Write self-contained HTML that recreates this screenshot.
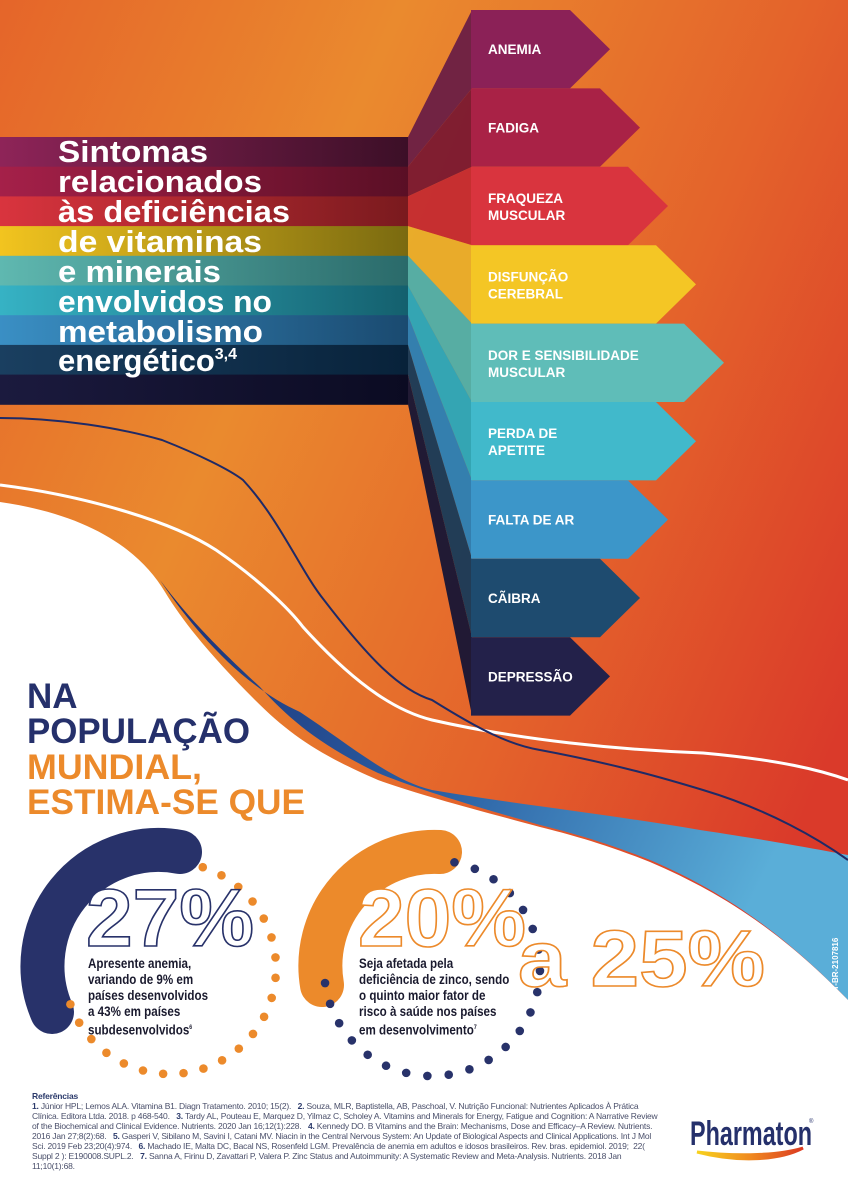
<!DOCTYPE html>
<html><head><meta charset="utf-8">
<style>
html,body{margin:0;padding:0;background:#fff;}
#wrap{position:relative;width:848px;height:1194px;overflow:hidden;font-family:"Liberation Sans",sans-serif;}
svg{position:absolute;left:0;top:0;}
.ref{position:absolute;left:32px;top:1091px;width:630px;font-size:8.5px;line-height:10px;color:#4a4f6a;letter-spacing:-0.2px;}
.ref b{color:#2b3a6b}
.body{position:absolute;font-weight:bold;font-size:13.5px;line-height:16px;color:#1a1a2e;transform:scaleX(0.86);transform-origin:0 0;white-space:nowrap;}
</style></head><body>
<div id="wrap">
<svg id="bg" width="848" height="1194" viewBox="0 0 848 1194">
<defs>
<linearGradient id="og" x1="0" y1="0" x2="1" y2="0.6">
<stop offset="0" stop-color="#e5652a"/><stop offset="0.35" stop-color="#ea8a2e"/><stop offset="0.7" stop-color="#e4632b"/><stop offset="1" stop-color="#da3a2a"/></linearGradient>
<linearGradient id="bl" x1="0" y1="0" x2="1" y2="0.3">
<stop offset="0" stop-color="#1d2f72"/><stop offset="0.5" stop-color="#2a5ea3"/><stop offset="1" stop-color="#5aaed8"/></linearGradient>
<linearGradient id="sw" x1="0" y1="0" x2="1" y2="0">
<stop offset="0" stop-color="#f7d21e"/><stop offset="0.5" stop-color="#f08a1f"/><stop offset="1" stop-color="#db3a22"/></linearGradient>
</defs>
<rect x="0" y="0" width="848" height="1194" fill="url(#og)"/>
<path d="M160,580 C200,640 250,690 300,712 C350,745 390,780 432,790 C520,805 600,813 700,830 C780,842 820,850 848,855 L848,1000 C780,930 720,890 650,860 C600,840 560,830 540,825 C470,805 420,790 378,773 C320,745 290,720 260,687 C220,650 190,620 160,580 Z" fill="url(#bl)"/>
<path d="M0,502 C90,515 140,550 165,592 C185,625 215,660 255,700 C290,735 320,755 378,780 C420,795 470,808 540,827 C560,832 600,842 650,862 C720,892 780,930 848,1000 L848,1194 L0,1194 Z" fill="#fff"/>
<path d="M0,485 C80,495 170,520 216,550 C260,580 290,610 303,627 C360,690 400,712 432,720 C520,740 620,750 703,753 C780,760 820,770 848,780" fill="none" stroke="#fff" stroke-width="3"/>
<path d="M0,418 C60,418 120,428 162,440 C200,455 230,470 243,480 C280,520 300,570 324,600 C370,660 400,690 432,700 C480,730 510,745 540,750 C620,765 670,780 703,790 C770,810 820,840 848,860" fill="none" stroke="#1f2a66" stroke-width="2"/>
<g id="stripes"></g>
<g id="arrows"></g>
<g fill="#fff" font-weight="bold" font-size="31">
<text x="58" y="162" textLength="150" lengthAdjust="spacingAndGlyphs">Sintomas</text>
<text x="58" y="192" textLength="204" lengthAdjust="spacingAndGlyphs">relacionados</text>
<text x="58" y="222" textLength="232" lengthAdjust="spacingAndGlyphs">às deficiências</text>
<text x="58" y="252" textLength="204" lengthAdjust="spacingAndGlyphs">de vitaminas</text>
<text x="58" y="282" textLength="163" lengthAdjust="spacingAndGlyphs">e minerais</text>
<text x="58" y="312" textLength="214" lengthAdjust="spacingAndGlyphs">envolvidos no</text>
<text x="58" y="342" textLength="205" lengthAdjust="spacingAndGlyphs">metabolismo</text>
<text x="58" y="371">energético<tspan font-size="16" dy="-12">3,4</tspan></text>
</g>
<g font-weight="bold" font-size="35">
<text x="27" y="708" fill="#25306b">NA</text>
<text x="27" y="743" fill="#25306b" textLength="223" lengthAdjust="spacingAndGlyphs">POPULAÇÃO</text>
<text x="27" y="779" fill="#ec8a2b" textLength="175" lengthAdjust="spacingAndGlyphs">MUNDIAL,</text>
<text x="27" y="814" fill="#ec8a2b" textLength="278" lengthAdjust="spacingAndGlyphs">ESTIMA-SE QUE</text>
</g>
<path d="M180,852 A116,116 0 0 0 52,1012" fill="none" stroke="#28326a" stroke-width="44" stroke-linecap="round"/>
<path d="M440,852 A114,114 0 0 0 322,985" fill="none" stroke="#ec8a2b" stroke-width="44" stroke-linecap="round"/>
<g id="dots"></g>
<text x="86" y="946" font-size="82" font-weight="bold" fill="#fff" stroke="#28326a" stroke-width="1.6" textLength="168" lengthAdjust="spacingAndGlyphs">27%</text>
<text x="358" y="946" font-size="82" font-weight="bold" fill="#fff" stroke="#ec8a2b" stroke-width="1.6" textLength="168" lengthAdjust="spacingAndGlyphs">20%</text>
<text x="518" y="986" font-size="80" font-weight="bold" fill="#fff" stroke="#ec8a2b" stroke-width="1.6" textLength="247" lengthAdjust="spacingAndGlyphs">a 25%</text>
<text transform="translate(838,1002) rotate(-90)" font-size="8" font-weight="bold" fill="#fff">MAT-BR-2107816</text>
<text x="690" y="1145" font-size="34" font-weight="bold" fill="#25306b" textLength="122" lengthAdjust="spacingAndGlyphs">Pharmaton</text>
<text x="809" y="1123" font-size="6" fill="#25306b">®</text>
<path d="M697,1152 C740,1163 780,1160 803,1148 C780,1155 740,1157 697,1152 Z" fill="url(#sw)" stroke="url(#sw)" stroke-width="3"/>
</svg>
<div class="body" style="left:88px;top:956px;">Apresente anemia,<br>variando de 9% em<br>países desenvolvidos<br>a 43% em países<br>subdesenvolvidos<sup style="font-size:6px">6</sup></div>
<div class="body" style="left:359px;top:956px;">Seja afetada pela<br>deficiência de zinco, sendo<br>o quinto maior fator de<br>risco à saúde nos países<br>em desenvolvimento<sup style="font-size:6px">7</sup></div>
<div class="ref"><b>Referências</b><br><b>1.</b> Júnior HPL; Lemos ALA. Vitamina B1. Diagn Tratamento. 2010; 15(2). &nbsp; <b>2.</b> Souza, MLR, Baptistella, AB, Paschoal, V. Nutrição Funcional: Nutrientes Aplicados À Prática Clínica. Editora Ltda. 2018. p 468-540. &nbsp; <b>3.</b> Tardy AL, Pouteau E, Marquez D, Yilmaz C, Scholey A. Vitamins and Minerals for Energy, Fatigue and Cognition: A Narrative Review of the Biochemical and Clinical Evidence. Nutrients. 2020 Jan 16;12(1):228. &nbsp; <b>4.</b> Kennedy DO. B Vitamins and the Brain: Mechanisms, Dose and Efficacy–A Review. Nutrients. 2016 Jan 27;8(2):68. &nbsp; <b>5.</b> Gasperi V, Sibilano M, Savini I, Catani MV. Niacin in the Central Nervous System: An Update of Biological Aspects and Clinical Applications. Int J Mol Sci. 2019 Feb 23;20(4):974. &nbsp; <b>6.</b> Machado IE, Malta DC, Bacal NS, Rosenfeld LGM. Prevalência de anemia em adultos e idosos brasileiros. Rev. bras. epidemiol. 2019; &nbsp;22( Suppl 2 ): E190008.SUPL.2. &nbsp; <b>7.</b> Sanna A, Firinu D, Zavattari P, Valera P. Zinc Status and Autoimmunity: A Systematic Review and Meta-Analysis. Nutrients. 2018 Jan 11;10(1):68.</div>
</div>
<script>
const labels=[["ANEMIA"],["FADIGA"],["FRAQUEZA","MUSCULAR"],["DISFUNÇÃO","CEREBRAL"],["DOR E SENSIBILIDADE","MUSCULAR"],["PERDA DE","APETITE"],["FALTA DE AR"],["CÃIBRA"],["DEPRESSÃO"]];
const colors=["#8b2157","#a92246","#d9343e","#f4c625","#5fbdb8","#41b9cb","#3c96c9","#1e4b6f","#23214a"];
const stripeL=["#8e2458","#a52049","#d9343e","#f2c41f","#5fb8b0","#36b2c4","#3a8fc4","#1a3f60","#1b1a3e"];
const stripeR=["#3c0f27","#5a0f25","#7a1a1e","#7a6a10","#2a6a6a","#14606e","#1a4a70","#08223a","#0b0b22"];
const faceC=["#6a1d45","#7a1830","#c42b30","#e9ae2a","#4fb0aa","#2aa8ba","#2a7fb5","#173a58","#161535"];
const tips=[610,640,668,696,724,696,668,640,610];
const NS="http://www.w3.org/2000/svg";
const sg=document.getElementById('stripes'),ag=document.getElementById('arrows'),defs=document.querySelector('defs');
const sTop=137,sH=29.7,aTop=10,aH=78.4;
for(let i=0;i<9;i++){
 const g=document.createElementNS(NS,'linearGradient');g.id='sg'+i;
 g.innerHTML='<stop offset="0" stop-color="'+stripeL[i]+'"/><stop offset="1" stop-color="'+stripeR[i]+'"/>';defs.appendChild(g);
 const r=document.createElementNS(NS,'rect');
 
 
 r.setAttribute('x',0);r.setAttribute('y',sTop+sH*i);r.setAttribute('width',408);r.setAttribute('height',sH+0.5);r.setAttribute('fill','url(#sg'+i+')');sg.appendChild(r);
}
for(let i=0;i<9;i++){
 const y0=aTop+aH*i,y1=y0+aH,s0=sTop+sH*i,s1=s0+sH;
 const f=document.createElementNS(NS,'polygon');
 
 
 f.setAttribute('points',`408,${s0} 472,${y0} 472,${y1} 408,${s1}`);f.setAttribute('fill',faceC[i]);f.setAttribute('opacity','0.95');ag.appendChild(f);
}
for(let i=0;i<9;i++){
 const y0=aTop+aH*i,y1=y0+aH,t=tips[i],m=(y0+y1)/2;
 const p=document.createElementNS(NS,'polygon');
 
 
 p.setAttribute('points',`471,${y0} ${t-40},${y0} ${t},${m} ${t-40},${y1} 471,${y1}`);p.setAttribute('fill',colors[i]);ag.appendChild(p);
 const L=labels[i];
 L.forEach((s,k)=>{const tx=document.createElementNS(NS,'text');
  
  
  tx.setAttribute('x',488);tx.setAttribute('y',L.length==1?m+5:m-3+k*17);tx.setAttribute('fill','#fff');tx.setAttribute('font-weight','bold');tx.setAttribute('font-size','13.5');tx.textContent=s;ag.appendChild(tx);});
}
const dg=document.getElementById('dots');
function dots(cx,cy,r,a0,a1,n,col){for(let k=0;k<n;k++){const a=(a0+(a1-a0)*k/(n-1))*Math.PI/180;
 const c=document.createElementNS(NS,'circle');
 
 
 c.setAttribute('cx',cx+r*Math.cos(a));c.setAttribute('cy',cy+r*Math.sin(a));c.setAttribute('r',4.3);c.setAttribute('fill',col);dg.appendChild(c);}}
dots(170,968,106,-72,160,22,'#ec8a2b');
dots(432,968,108,-78,172,23,'#28326a');
</script>
</body></html>
